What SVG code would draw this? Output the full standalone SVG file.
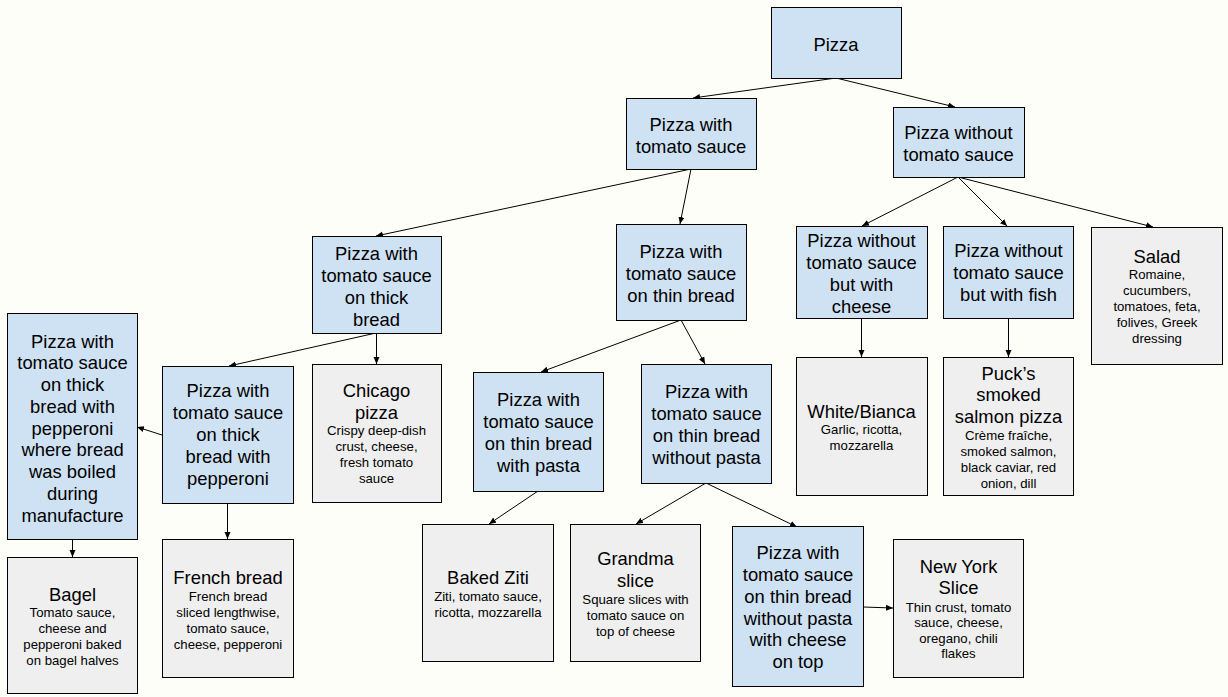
<svg xmlns="http://www.w3.org/2000/svg" width="1228" height="697" viewBox="0 0 1228 697">
<defs>
<style>
.b{fill:#cfe2f3;stroke:#000;stroke-width:1}
.g{fill:#efefef;stroke:#000;stroke-width:1}
.t{font-family:"Liberation Sans",Arial,sans-serif;font-size:18.4px;fill:#000;text-anchor:middle}
.d{font-family:"Liberation Sans",Arial,sans-serif;font-size:13.2px;fill:#000;text-anchor:middle}
.c{stroke:#000;stroke-width:1;fill:none;marker-end:url(#ah)}
</style>
<marker id="ah" markerUnits="userSpaceOnUse" markerWidth="8" markerHeight="7" refX="7" refY="3" orient="auto">
<path d="M0,0 L7,3 L0,6 z" fill="#000"/>
</marker>
</defs>
<rect width="1228" height="697" fill="#fefef8"/>
<g id="connectors">
<line class="c" x1="836" y1="78" x2="693" y2="98"/>
<line class="c" x1="836" y1="78" x2="955" y2="107"/>
<line class="c" x1="691" y1="169" x2="376" y2="236"/>
<line class="c" x1="691" y1="169" x2="680" y2="224"/>
<line class="c" x1="958" y1="177" x2="862" y2="226"/>
<line class="c" x1="958" y1="177" x2="1007" y2="226"/>
<line class="c" x1="958" y1="177" x2="1153" y2="227"/>
<line class="c" x1="376" y1="333" x2="229" y2="366"/>
<line class="c" x1="376.5" y1="333" x2="376.5" y2="364"/>
<line class="c" x1="681" y1="320" x2="541" y2="372"/>
<line class="c" x1="681" y1="320" x2="705" y2="364"/>
<line class="c" x1="162" y1="435" x2="137" y2="427"/>
<line class="c" x1="72.5" y1="539" x2="72.5" y2="557"/>
<line class="c" x1="227.5" y1="503" x2="227.5" y2="539"/>
<line class="c" x1="861.5" y1="318" x2="861.5" y2="357"/>
<line class="c" x1="1008.5" y1="318" x2="1008.5" y2="357"/>
<line class="c" x1="538" y1="491" x2="489" y2="524"/>
<line class="c" x1="706" y1="483" x2="636" y2="524"/>
<line class="c" x1="706" y1="483" x2="797" y2="527"/>
<line class="c" x1="863" y1="607" x2="893" y2="608"/>
</g>
<g id="n-pizza"><rect class="b" x="771.5" y="7.5" width="130" height="71"/>
<text class="t"><tspan x="836" y="50.5">Pizza</tspan></text></g>
<g id="n-with-ts"><rect class="b" x="626.5" y="98.5" width="130" height="71"/>
<text class="t"><tspan x="691" y="130.5">Pizza with</tspan><tspan x="691" y="152.5">tomato sauce</tspan></text></g>
<g id="n-without-ts"><rect class="b" x="893.5" y="107.5" width="131" height="70"/>
<text class="t"><tspan x="958.5" y="139">Pizza without</tspan><tspan x="958.5" y="161">tomato sauce</tspan></text></g>
<g id="n-thick"><rect class="b" x="312.5" y="236.5" width="129" height="97"/>
<text class="t"><tspan x="376.5" y="259.5">Pizza with</tspan><tspan x="376.5" y="281.5">tomato sauce</tspan><tspan x="376.5" y="303.5">on thick</tspan><tspan x="376.5" y="325.5">bread</tspan></text></g>
<g id="n-thin"><rect class="b" x="616.5" y="224.5" width="130" height="96"/>
<text class="t"><tspan x="681" y="258">Pizza with</tspan><tspan x="681" y="280">tomato sauce</tspan><tspan x="681" y="302">on thin bread</tspan></text></g>
<g id="n-cheese"><rect class="b" x="796.5" y="226.5" width="131" height="92"/>
<text class="t"><tspan x="861.5" y="246.5">Pizza without</tspan><tspan x="861.5" y="268.5">tomato sauce</tspan><tspan x="861.5" y="290.5">but with</tspan><tspan x="861.5" y="312.5">cheese</tspan></text></g>
<g id="n-fish"><rect class="b" x="943.5" y="226.5" width="130" height="92"/>
<text class="t"><tspan x="1008.5" y="257">Pizza without</tspan><tspan x="1008.5" y="279">tomato sauce</tspan><tspan x="1008.5" y="301">but with fish</tspan></text></g>
<g id="n-salad"><rect class="g" x="1091.5" y="227.5" width="131" height="137"/>
<text class="t"><tspan x="1157" y="262.5">Salad</tspan></text>
<text class="d"><tspan x="1157" y="279.3">Romaine,</tspan><tspan x="1157" y="295.3">cucumbers,</tspan><tspan x="1157" y="311.3">tomatoes, feta,</tspan><tspan x="1157" y="327.3">folives, Greek</tspan><tspan x="1157" y="343.3">dressing</tspan></text></g>
<g id="n-boiled"><rect class="b" x="7.5" y="313.5" width="130" height="226"/>
<text class="t"><tspan x="72.5" y="347.5">Pizza with</tspan><tspan x="72.5" y="369.3">tomato sauce</tspan><tspan x="72.5" y="391">on thick</tspan><tspan x="72.5" y="412.8">bread with</tspan><tspan x="72.5" y="434.5">pepperoni</tspan><tspan x="72.5" y="456.3">where bread</tspan><tspan x="72.5" y="478">was boiled</tspan><tspan x="72.5" y="499.8">during</tspan><tspan x="72.5" y="521.5">manufacture</tspan></text></g>
<g id="n-pepperoni"><rect class="b" x="162.5" y="366.5" width="131" height="137"/>
<text class="t"><tspan x="228" y="397">Pizza with</tspan><tspan x="228" y="419">tomato sauce</tspan><tspan x="228" y="441">on thick</tspan><tspan x="228" y="463">bread with</tspan><tspan x="228" y="485">pepperoni</tspan></text></g>
<g id="n-chicago"><rect class="g" x="312.5" y="364.5" width="129" height="138"/>
<text class="t"><tspan x="376.5" y="397">Chicago</tspan><tspan x="376.5" y="418.5">pizza</tspan></text>
<text class="d"><tspan x="376.5" y="435">Crispy deep-dish</tspan><tspan x="376.5" y="451">crust, cheese,</tspan><tspan x="376.5" y="467">fresh tomato</tspan><tspan x="376.5" y="483">sauce</tspan></text></g>
<g id="n-pasta"><rect class="b" x="473.5" y="372.5" width="130" height="119"/>
<text class="t"><tspan x="538.5" y="405.5">Pizza with</tspan><tspan x="538.5" y="427.5">tomato sauce</tspan><tspan x="538.5" y="449.5">on thin bread</tspan><tspan x="538.5" y="471.5">with pasta</tspan></text></g>
<g id="n-nopasta"><rect class="b" x="641.5" y="364.5" width="130" height="119"/>
<text class="t"><tspan x="706.5" y="397.5">Pizza with</tspan><tspan x="706.5" y="419.5">tomato sauce</tspan><tspan x="706.5" y="441.5">on thin bread</tspan><tspan x="706.5" y="463.5">without pasta</tspan></text></g>
<g id="n-white"><rect class="g" x="796.5" y="357.5" width="131" height="138"/>
<text class="t"><tspan x="861.5" y="417.5">White/Bianca</tspan></text>
<text class="d"><tspan x="861.5" y="433.5">Garlic, ricotta,</tspan><tspan x="861.5" y="449.5">mozzarella</tspan></text></g>
<g id="n-puck"><rect class="g" x="943.5" y="357.5" width="130" height="138"/>
<text class="t"><tspan x="1008.5" y="379.5">Puck’s</tspan><tspan x="1008.5" y="401">smoked</tspan><tspan x="1008.5" y="423">salmon pizza</tspan></text>
<text class="d"><tspan x="1008.5" y="440">Crème fraîche,</tspan><tspan x="1008.5" y="456">smoked salmon,</tspan><tspan x="1008.5" y="472">black caviar, red</tspan><tspan x="1008.5" y="488">onion, dill</tspan></text></g>
<g id="n-bagel"><rect class="g" x="7.5" y="557.5" width="130" height="136"/>
<text class="t"><tspan x="72.5" y="601">Bagel</tspan></text>
<text class="d"><tspan x="72.5" y="617.3">Tomato sauce,</tspan><tspan x="72.5" y="633.3">cheese and</tspan><tspan x="72.5" y="649.3">pepperoni baked</tspan><tspan x="72.5" y="665.3">on bagel halves</tspan></text></g>
<g id="n-french"><rect class="g" x="162.5" y="539.5" width="131" height="138"/>
<text class="t"><tspan x="228" y="584">French bread</tspan></text>
<text class="d"><tspan x="228" y="600.5">French bread</tspan><tspan x="228" y="616.5">sliced lengthwise,</tspan><tspan x="228" y="632.5">tomato sauce,</tspan><tspan x="228" y="648.5">cheese, pepperoni</tspan></text></g>
<g id="n-ziti"><rect class="g" x="422.5" y="524.5" width="131" height="137"/>
<text class="t"><tspan x="488" y="584">Baked Ziti</tspan></text>
<text class="d"><tspan x="488" y="600.5">Ziti, tomato sauce,</tspan><tspan x="488" y="616.5">ricotta, mozzarella</tspan></text></g>
<g id="n-grandma"><rect class="g" x="570.5" y="524.5" width="130" height="137"/>
<text class="t"><tspan x="635.5" y="564.5">Grandma</tspan><tspan x="635.5" y="586.5">slice</tspan></text>
<text class="d"><tspan x="635.5" y="604">Square slices with</tspan><tspan x="635.5" y="620">tomato sauce on</tspan><tspan x="635.5" y="636">top of cheese</tspan></text></g>
<g id="n-cheesetop"><rect class="b" x="732.5" y="526.5" width="131" height="160"/>
<text class="t"><tspan x="798" y="559">Pizza with</tspan><tspan x="798" y="581">tomato sauce</tspan><tspan x="798" y="602.5">on thin bread</tspan><tspan x="798" y="624.5">without pasta</tspan><tspan x="798" y="646">with cheese</tspan><tspan x="798" y="668">on top</tspan></text></g>
<g id="n-newyork"><rect class="g" x="893.5" y="539.5" width="130" height="138"/>
<text class="t"><tspan x="958.5" y="572.5">New York</tspan><tspan x="958.5" y="593.5">Slice</tspan></text>
<text class="d"><tspan x="958.5" y="611.5">Thin crust, tomato</tspan><tspan x="958.5" y="627">sauce, cheese,</tspan><tspan x="958.5" y="642.5">oregano, chili</tspan><tspan x="958.5" y="658">flakes</tspan></text></g>
</svg>
